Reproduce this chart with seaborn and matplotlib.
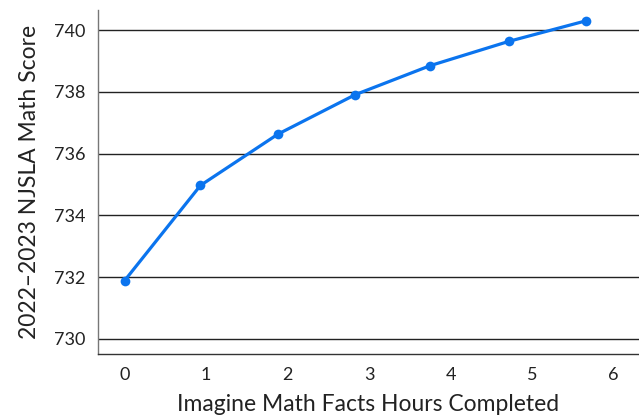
import pandas as pd
import seaborn as sns
import matplotlib.pyplot as plt

hours = [0.0, 0.93, 1.88, 2.83, 3.75, 4.72, 5.66]
scores = [731.89, 734.97, 736.63, 737.91, 738.85, 739.64, 740.30]
x_ticks = [0, 1, 2, 3, 4, 5, 6]
y_ticks = [730, 732, 734, 736, 738, 740]

sns.set_style("white")
plt.rcParams['font.family'] = ['Lato', 'DejaVu Sans']

df = pd.DataFrame({"hours": hours, "score": scores})

fig = plt.figure(figsize=(6.39, 4.17), dpi=100)
ax = fig.add_axes([0.153, 0.151, 0.847, 0.825])

for t in y_ticks:
    ax.axhline(t, color="#222222", linewidth=1.0, zorder=1)

sns.lineplot(data=df, x="hours", y="score", ax=ax, color="#0B74EE",
             linewidth=2.3, marker="o", markersize=7, markeredgewidth=0, zorder=3)

ax.set_xlim(-0.33, 6.31)
ax.set_ylim(729.51, 740.65)
ax.set_xticks(x_ticks)
ax.set_yticks(y_ticks)
ax.tick_params(axis="both", length=0, labelsize=13, colors="#222222", pad=9)
ax.set_xlabel("Imagine Math Facts Hours Completed", fontsize=16.5, color="#222222", labelpad=8)
ax.set_ylabel("2022–2023 NJSLA Math Score", fontsize=16.5, color="#222222", labelpad=10)

for side in ["top", "right"]:
    ax.spines[side].set_visible(False)
ax.spines["left"].set_color("#777777")
ax.spines["left"].set_linewidth(1.0)
ax.spines["bottom"].set_color("#333333")
ax.spines["bottom"].set_linewidth(1.0)

fig.savefig("out.png", dpi=100)
